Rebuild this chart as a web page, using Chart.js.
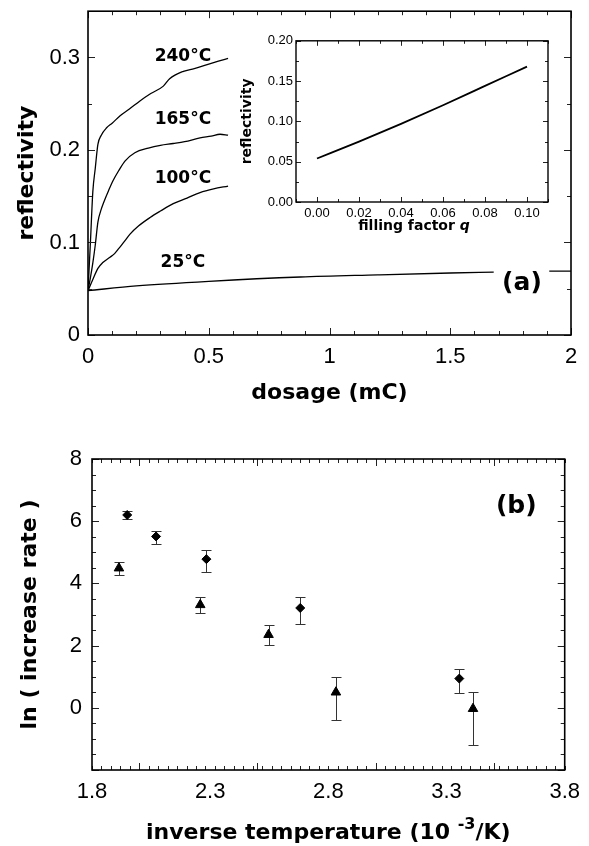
<!DOCTYPE html>
<html>
<head>
<meta charset="utf-8">
<title>Reflectivity vs dosage / increase rate</title>
<script src="https://cdn.jsdelivr.net/npm/chart.js@4.4.1/dist/chart.umd.min.js"></script>
<style>
  body { margin: 0; background: #fff; }
  #wrap { position: relative; width: 589px; height: 846px; overflow: hidden; }
  canvas { position: absolute; }
</style>
</head>
<body>
<div id="wrap">
  <canvas id="dosageChart" width="589" height="420" style="left:0;top:-10px"></canvas>
  <canvas id="insetChart" width="340" height="215" style="left:226px;top:30px"></canvas>
  <canvas id="rateChart" width="589" height="426" style="left:0;top:420px"></canvas>
</div>
<script>
// ---- panel (a): reflectivity vs dosage ----
const dose240 = [0, 0.01, 0.02, 0.03, 0.041, 0.055, 0.077, 0.1, 0.133, 0.17, 0.215, 0.26, 0.312, 0.338, 0.395, 0.44, 0.49, 0.54, 0.58];
const refl240 = [0.048, 0.1, 0.155, 0.18, 0.206, 0.216, 0.224, 0.229, 0.237, 0.244, 0.253, 0.261, 0.269, 0.277, 0.285, 0.288, 0.292, 0.296, 0.299];

const dose165 = [0, 0.01, 0.02, 0.03, 0.041, 0.055, 0.069, 0.085, 0.104, 0.128, 0.153, 0.194, 0.25, 0.3, 0.353, 0.4, 0.464, 0.51, 0.547, 0.58];
const refl165 = [0.048, 0.062, 0.078, 0.097, 0.122, 0.136, 0.146, 0.156, 0.167, 0.178, 0.188, 0.197, 0.202, 0.205, 0.207, 0.209, 0.213, 0.215, 0.217, 0.216];

const dose100 = [0, 0.02, 0.041, 0.06, 0.091, 0.11, 0.126, 0.15, 0.174, 0.21, 0.257, 0.3, 0.353, 0.41, 0.464, 0.52, 0.58];
const refl100 = [0.048, 0.06, 0.072, 0.078, 0.084, 0.088, 0.093, 0.101, 0.109, 0.118, 0.127, 0.134, 0.142, 0.148, 0.154, 0.158, 0.161];

const dose25 = [0, 0.2, 0.5, 0.88, 1.2, 1.5, 1.68, null, 1.91, 2.0];
const refl25 = [0.048, 0.053, 0.058, 0.0627, 0.065, 0.067, 0.068, null, 0.069, 0.069];

const dosageTicks = [0, 0.5, 1, 1.5, 2];
const reflTicks = [0, 0.1, 0.2, 0.3];

const tempLabels = ['240°C', '165°C', '100°C', '25°C'];
const tempLabelDose = [0.393, 0.393, 0.393, 0.393];
const tempLabelRefl = [0.301, 0.233, 0.169, 0.0785];

// ---- inset: reflectivity vs filling factor ----
const fillQ = [0, 0.02, 0.04, 0.06, 0.08, 0.10];
const fillRefl = [0.054, 0.075, 0.097, 0.12, 0.144, 0.168];
const fillTicks = [0, 0.02, 0.04, 0.06, 0.08, 0.10];
const insetReflTicks = [0, 0.05, 0.10, 0.15, 0.20];

// ---- panel (b): ln(increase rate) vs inverse temperature ----
const invTempDiamond = [1.949, 2.071, 2.284, 2.681, 3.354];
const lnRateDiamond = [6.20, 5.51, 4.78, 3.21, 0.94];
const diamondHigh = [6.32, 5.70, 5.06, 3.56, 1.26];
const diamondLow = [6.08, 5.26, 4.38, 2.70, 0.46];

const invTempTriangle = [1.914, 2.258, 2.547, 2.832, 3.412];
const lnRateTriangle = [4.49, 3.31, 2.35, 0.50, -0.03];
const triangleHigh = [4.70, 3.56, 2.67, 0.98, 0.51];
const triangleLow = [4.28, 3.05, 2.01, -0.38, -1.21];

const invTempTicks = [1.8, 2.3, 2.8, 3.3, 3.8];
const lnRateTicks = [0, 2, 4, 6, 8];

const BOLD = '"DejaVu Sans"';
const PLAIN = '"Liberation Sans"';

function toPoints(xs, ys) {
    return xs.map((x, i) => ({ x: x, y: ys[i] }));
}

function fixedTicks(values) {
    return (scale) => { scale.ticks = values.map((v) => ({ value: v })); };
}

// draws runs of text with different fonts, centred on (cx, cy)
function drawRuns(ctx, parts, cx, cy) {
    let total = 0;
    parts.forEach((p) => { ctx.font = p.font; total += ctx.measureText(p.text).width; });
    let x = cx - total / 2;
    ctx.textAlign = 'left';
    ctx.textBaseline = 'middle';
    parts.forEach((p) => {
        ctx.font = p.font;
        ctx.fillText(p.text, x, cy + (p.dy || 0));
        x += ctx.measureText(p.text).width;
    });
}

// box round the plot with inward ticks on all four sides
const frameTicks = {
    id: 'frameTicks',
    afterDatasetsDraw(chart, args, opts) {
        const { ctx, chartArea: a } = chart;
        const xs = chart.scales.x;
        const ys = chart.scales.y;
        ctx.save();
        ctx.strokeStyle = '#222';
        ctx.lineWidth = 1;
        const marks = (scale, step, len) => {
            const n0 = Math.ceil(scale.min / step - 1e-6);
            const n1 = Math.floor(scale.max / step + 1e-6);
            for (let n = n0; n <= n1; n++) {
                const p = Math.round(scale.getPixelForValue(n * step)) + 0.5;
                ctx.beginPath();
                if (scale.isHorizontal()) {
                    ctx.moveTo(p, a.bottom); ctx.lineTo(p, a.bottom - len);
                    ctx.moveTo(p, a.top); ctx.lineTo(p, a.top + len);
                } else {
                    ctx.moveTo(a.left, p); ctx.lineTo(a.left + len, p);
                    ctx.moveTo(a.right, p); ctx.lineTo(a.right - len, p);
                }
                ctx.stroke();
            }
        };
        marks(xs, opts.xMinor, opts.minorLen);
        marks(xs, opts.xMajor, opts.majorLen);
        marks(ys, opts.yMinor, opts.minorLen);
        marks(ys, opts.yMajor, opts.majorLen);
        ctx.strokeStyle = '#000';
        ctx.lineWidth = opts.frameWidth;
        ctx.strokeRect(a.left, a.top, a.right - a.left, a.bottom - a.top);
        ctx.restore();
    }
};

// text placed at data coordinates, plus free pixel-placed runs
const panelText = {
    id: 'panelText',
    afterDraw(chart, args, opts) {
        const ctx = chart.ctx;
        const xs = chart.scales.x;
        const ys = chart.scales.y;
        ctx.save();
        ctx.fillStyle = '#000';
        (opts.items || []).forEach((item) => {
            ctx.font = item.font;
            ctx.textAlign = 'center';
            ctx.textBaseline = 'middle';
            ctx.fillText(item.text, xs.getPixelForValue(item.x), ys.getPixelForValue(item.y));
        });
        if (opts.runs) {
            const a = chart.chartArea;
            drawRuns(ctx, opts.runs.parts, (a.left + a.right) / 2 + opts.runs.dx, a.bottom + opts.runs.dy);
        }
        ctx.restore();
    }
};

const errorBars = {
    id: 'errorBars',
    beforeDatasetsDraw(chart, args, opts) {
        const ctx = chart.ctx;
        const xs = chart.scales.x;
        const ys = chart.scales.y;
        const cap = opts.cap;
        ctx.save();
        ctx.strokeStyle = '#333';
        ctx.lineWidth = 1;
        opts.sets.forEach((set) => {
            set.x.forEach((xv, i) => {
                const px = Math.round(xs.getPixelForValue(xv)) + 0.5;
                const top = Math.round(ys.getPixelForValue(set.high[i])) + 0.5;
                const bot = Math.round(ys.getPixelForValue(set.low[i])) + 0.5;
                ctx.beginPath();
                ctx.moveTo(px, top); ctx.lineTo(px, bot);
                ctx.moveTo(px - cap, top); ctx.lineTo(px + cap, top);
                ctx.moveTo(px - cap, bot); ctx.lineTo(px + cap, bot);
                ctx.stroke();
            });
        });
        ctx.restore();
    }
};

function curve(xs, ys) {
    return {
        data: toPoints(xs, ys),
        borderColor: '#000',
        borderWidth: 1.3,
        pointRadius: 0,
        cubicInterpolationMode: 'monotone',
        spanGaps: false,
        fill: false,
    };
}

const tickFont = (size) => ({ family: PLAIN, size: size });
const titleFont = (size) => ({ family: BOLD, size: size, weight: 'bold' });

new Chart(document.getElementById('dosageChart'), {
    type: 'line',
    data: {
        datasets: [
            curve(dose240, refl240),
            curve(dose165, refl165),
            curve(dose100, refl100),
            curve(dose25, refl25),
        ]
    },
    plugins: [frameTicks, panelText],
    options: {
        responsive: false,
        animation: false,
        layout: { padding: { top: 19, right: 18, left: 0, bottom: 0 } },
        plugins: {
            legend: { display: false },
            tooltip: { enabled: false },
            frameTicks: { xMajor: 0.5, xMinor: 0.1, yMajor: 0.1, yMinor: 0.05, majorLen: 7, minorLen: 4, frameWidth: 1.6 },
            panelText: {
                items: tempLabels.map((t, i) => ({ text: t, x: tempLabelDose[i], y: tempLabelRefl[i], font: 'bold 17px ' + BOLD }))
                    .concat([{ text: '(a)', x: 1.797, y: 0.056, font: 'bold 25px ' + BOLD }])
            }
        },
        scales: {
            x: {
                type: 'linear', min: 0, max: 2,
                afterBuildTicks: fixedTicks(dosageTicks),
                afterFit: (s) => { s.height = 75; },
                grid: { display: false, drawTicks: false },
                border: { display: false },
                ticks: { padding: 9, color: '#000', font: tickFont(22), maxRotation: 0, callback: (v) => String(v) },
                title: { display: true, text: 'dosage (mC)', color: '#000', font: titleFont(22), padding: 4 }
            },
            y: {
                type: 'linear', min: 0, max: 0.35,
                afterBuildTicks: fixedTicks(reflTicks),
                afterFit: (s) => { s.width = 88; },
                grid: { display: false, drawTicks: false },
                border: { display: false },
                ticks: { padding: 8, color: '#000', font: tickFont(22), callback: (v) => String(v) },
                title: { display: true, text: 'reflectivity', color: '#000', font: titleFont(22), padding: 14 }
            }
        }
    }
});

new Chart(document.getElementById('insetChart'), {
    type: 'line',
    data: { datasets: [Object.assign(curve(fillQ, fillRefl), { borderWidth: 1.8 })] },
    plugins: [frameTicks, panelText],
    options: {
        responsive: false,
        animation: false,
        layout: { padding: { top: 10, right: 18, left: 0, bottom: 0 } },
        plugins: {
            legend: { display: false },
            tooltip: { enabled: false },
            frameTicks: { xMajor: 0.02, xMinor: 0.01, yMajor: 0.05, yMinor: 0.025, majorLen: 5, minorLen: 3, frameWidth: 1.4 },
            panelText: {
                runs: {
                    dx: -8, dy: 24,
                    parts: [
                        { text: 'filling factor ', font: 'bold 14px ' + BOLD },
                        { text: 'q', font: 'italic bold 14px ' + BOLD }
                    ]
                }
            }
        },
        scales: {
            x: {
                type: 'linear', min: -0.01, max: 0.11,
                afterBuildTicks: fixedTicks(fillTicks),
                afterFit: (s) => { s.height = 43; },
                grid: { display: false, drawTicks: false },
                border: { display: false },
                ticks: { padding: 4, color: '#000', font: tickFont(13), maxRotation: 0, callback: (v) => v.toFixed(2) }
            },
            y: {
                type: 'linear', min: 0, max: 0.2,
                afterBuildTicks: fixedTicks(insetReflTicks),
                afterFit: (s) => { s.width = 70; },
                grid: { display: false, drawTicks: false },
                border: { display: false },
                ticks: { padding: 3, color: '#000', font: tickFont(13), callback: (v) => v.toFixed(2) },
                title: { display: true, text: 'reflectivity', color: '#000', font: titleFont(14), padding: 13 }
            }
        }
    }
});

new Chart(document.getElementById('rateChart'), {
    type: 'scatter',
    data: {
        datasets: [
            {
                data: toPoints(invTempDiamond, lnRateDiamond),
                pointStyle: 'rectRot', pointRadius: 4.5,
                backgroundColor: '#000', borderColor: '#000', borderWidth: 1
            },
            {
                data: toPoints(invTempTriangle, lnRateTriangle),
                pointStyle: 'triangle', pointRadius: 5.5,
                backgroundColor: '#000', borderColor: '#000', borderWidth: 1
            }
        ]
    },
    plugins: [errorBars, frameTicks, panelText],
    options: {
        responsive: false,
        animation: false,
        layout: { padding: { top: 39, right: 18, left: 0, bottom: 0 } },
        plugins: {
            legend: { display: false },
            tooltip: { enabled: false },
            errorBars: {
                cap: 5,
                sets: [
                    { x: invTempDiamond, high: diamondHigh, low: diamondLow },
                    { x: invTempTriangle, high: triangleHigh, low: triangleLow }
                ]
            },
            frameTicks: { xMajor: 0.5, xMinor: 0.04, yMajor: 2, yMinor: 0.5, majorLen: 7, minorLen: 4, frameWidth: 1.6 },
            panelText: {
                items: [{ text: '(b)', x: 3.595, y: 6.47, font: 'bold 25px ' + BOLD }],
                runs: {
                    dx: 0, dy: 63,
                    parts: [
                        { text: 'inverse temperature (10 ', font: 'bold 22px ' + BOLD },
                        { text: '-3', font: 'bold 16px ' + BOLD, dy: -8 },
                        { text: '/K)', font: 'bold 22px ' + BOLD }
                    ]
                }
            }
        },
        scales: {
            x: {
                type: 'linear', min: 1.8, max: 3.8,
                afterBuildTicks: fixedTicks(invTempTicks),
                afterFit: (s) => { s.height = 76; },
                grid: { display: false, drawTicks: false },
                border: { display: false },
                ticks: { padding: 9, color: '#000', font: tickFont(22), maxRotation: 0, callback: (v) => v.toFixed(1) }
            },
            y: {
                type: 'linear', min: -2, max: 8,
                afterBuildTicks: fixedTicks(lnRateTicks),
                afterFit: (s) => { s.width = 92; },
                grid: { display: false, drawTicks: false },
                border: { display: false },
                ticks: { padding: 10, color: '#000', font: tickFont(22), callback: (v) => String(v) },
                title: { display: true, text: 'ln ( increase rate )', color: '#000', font: titleFont(22), padding: 17 }
            }
        }
    }
});
</script>
</body>
</html>
